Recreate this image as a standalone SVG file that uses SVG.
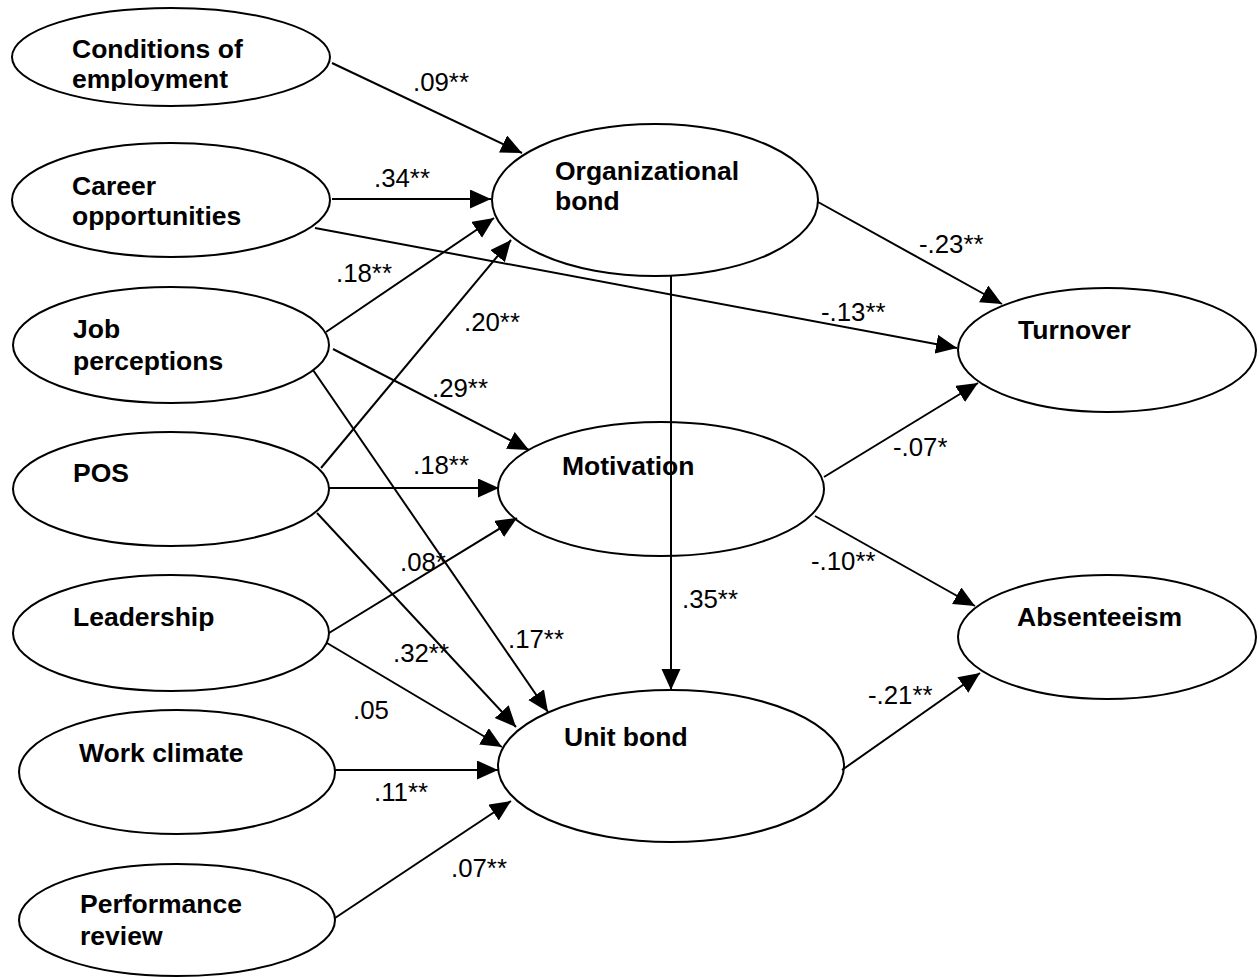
<svg xmlns="http://www.w3.org/2000/svg" width="1259" height="977" viewBox="0 0 1259 977">
<style>
.node ellipse { fill: #ffffff; stroke: #000000; stroke-width: 2; }
.node text { font-family: "Liberation Sans", Arial, sans-serif; font-weight: bold; font-size: 26.5px; fill: #000000; }
.edges line { stroke: #000000; stroke-width: 2; fill: none; }
.lbl { font-family: "Liberation Sans", Arial, sans-serif; font-size: 25.8px; fill: #000000; }
</style>
<defs>
<marker id="ah" markerUnits="userSpaceOnUse" markerWidth="22" markerHeight="20" refX="21" refY="9.5" orient="auto">
<path d="M0,0 L21,9.5 L0,19 Z" fill="#000000"/>
</marker>
<clipPath id="clipCond"><rect x="0" y="0" width="400" height="91"/></clipPath>
</defs>
<rect width="1259" height="977" fill="#ffffff"/>

<g id="n-conditions" class="node">
<ellipse cx="171" cy="57" rx="159" ry="49"/>
<g clip-path="url(#clipCond)"><text x="72" y="58">Conditions of</text><text x="72" y="88">employment</text></g>
</g>
<g id="n-career" class="node">
<ellipse cx="171" cy="200" rx="159" ry="57"/>
<text x="72" y="195">Career</text><text x="72" y="225">opportunities</text>
</g>
<g id="n-job" class="node">
<ellipse cx="171" cy="345" rx="158" ry="58"/>
<text x="73" y="338">Job</text><text x="73" y="370">perceptions</text>
</g>
<g id="n-pos" class="node">
<ellipse cx="171" cy="489" rx="158" ry="57"/>
<text x="73" y="482">POS</text>
</g>
<g id="n-leadership" class="node">
<ellipse cx="171" cy="633" rx="158" ry="58"/>
<text x="73" y="626">Leadership</text>
</g>
<g id="n-workclimate" class="node">
<ellipse cx="177" cy="772" rx="158" ry="62"/>
<text x="79" y="762">Work climate</text>
</g>
<g id="n-performance" class="node">
<ellipse cx="177" cy="920" rx="158" ry="56"/>
<text x="80" y="913">Performance</text><text x="80" y="945">review</text>
</g>
<g id="n-orgbond" class="node">
<ellipse cx="655" cy="200" rx="163" ry="76"/>
<text x="555" y="180">Organizational</text><text x="555" y="210">bond</text>
</g>
<g id="n-motivation" class="node">
<ellipse cx="661" cy="489" rx="163" ry="67"/>
<text x="562" y="475">Motivation</text>
</g>
<g id="n-unitbond" class="node">
<ellipse cx="671" cy="766" rx="173" ry="76"/>
<text x="564" y="746">Unit bond</text>
</g>
<g id="n-turnover" class="node">
<ellipse cx="1107" cy="350" rx="149" ry="62"/>
<text x="1018" y="339">Turnover</text>
</g>
<g id="n-absenteeism" class="node">
<ellipse cx="1107" cy="637" rx="149" ry="62"/>
<text x="1017" y="626">Absenteeism</text>
</g>

<g id="connectors" class="edges">
<line x1="332" y1="63" x2="522" y2="153" marker-end="url(#ah)"/>
<line x1="332" y1="199" x2="491" y2="199" marker-end="url(#ah)"/>
<line x1="315" y1="228" x2="957" y2="348" marker-end="url(#ah)"/>
<line x1="326" y1="332" x2="494" y2="218" marker-end="url(#ah)"/>
<line x1="333" y1="349" x2="529" y2="450" marker-end="url(#ah)"/>
<line x1="313" y1="370" x2="548" y2="712" marker-end="url(#ah)"/>
<line x1="321" y1="468" x2="511" y2="240" marker-end="url(#ah)"/>
<line x1="329" y1="488" x2="499" y2="488" marker-end="url(#ah)"/>
<line x1="317" y1="513" x2="516" y2="727" marker-end="url(#ah)"/>
<line x1="329" y1="633" x2="517" y2="518" marker-end="url(#ah)"/>
<line x1="327" y1="643" x2="502" y2="747" marker-end="url(#ah)"/>
<line x1="335" y1="770" x2="498" y2="770" marker-end="url(#ah)"/>
<line x1="335" y1="918" x2="511" y2="801" marker-end="url(#ah)"/>
<line x1="671" y1="276" x2="671" y2="690" marker-end="url(#ah)"/>
<line x1="818" y1="202" x2="1002" y2="304" marker-end="url(#ah)"/>
<line x1="824" y1="477" x2="978" y2="383" marker-end="url(#ah)"/>
<line x1="815" y1="516" x2="975" y2="606" marker-end="url(#ah)"/>
<line x1="842" y1="770" x2="980" y2="673" marker-end="url(#ah)"/>
</g>

<g id="edge-labels" class="lbl">
<text x="413" y="91">.09**</text>
<text x="374" y="187">.34**</text>
<text x="821" y="321">-.13**</text>
<text x="336" y="282">.18**</text>
<text x="432" y="397">.29**</text>
<text x="508" y="648">.17**</text>
<text x="464" y="331">.20**</text>
<text x="413" y="474">.18**</text>
<text x="393" y="662">.32**</text>
<text x="400" y="571">.08*</text>
<text x="353" y="719">.05</text>
<text x="374" y="801">.11**</text>
<text x="451" y="877">.07**</text>
<text x="682" y="608">.35**</text>
<text x="919" y="253">-.23**</text>
<text x="893" y="456">-.07*</text>
<text x="811" y="570">-.10**</text>
<text x="868" y="704">-.21**</text>
</g>
</svg>
